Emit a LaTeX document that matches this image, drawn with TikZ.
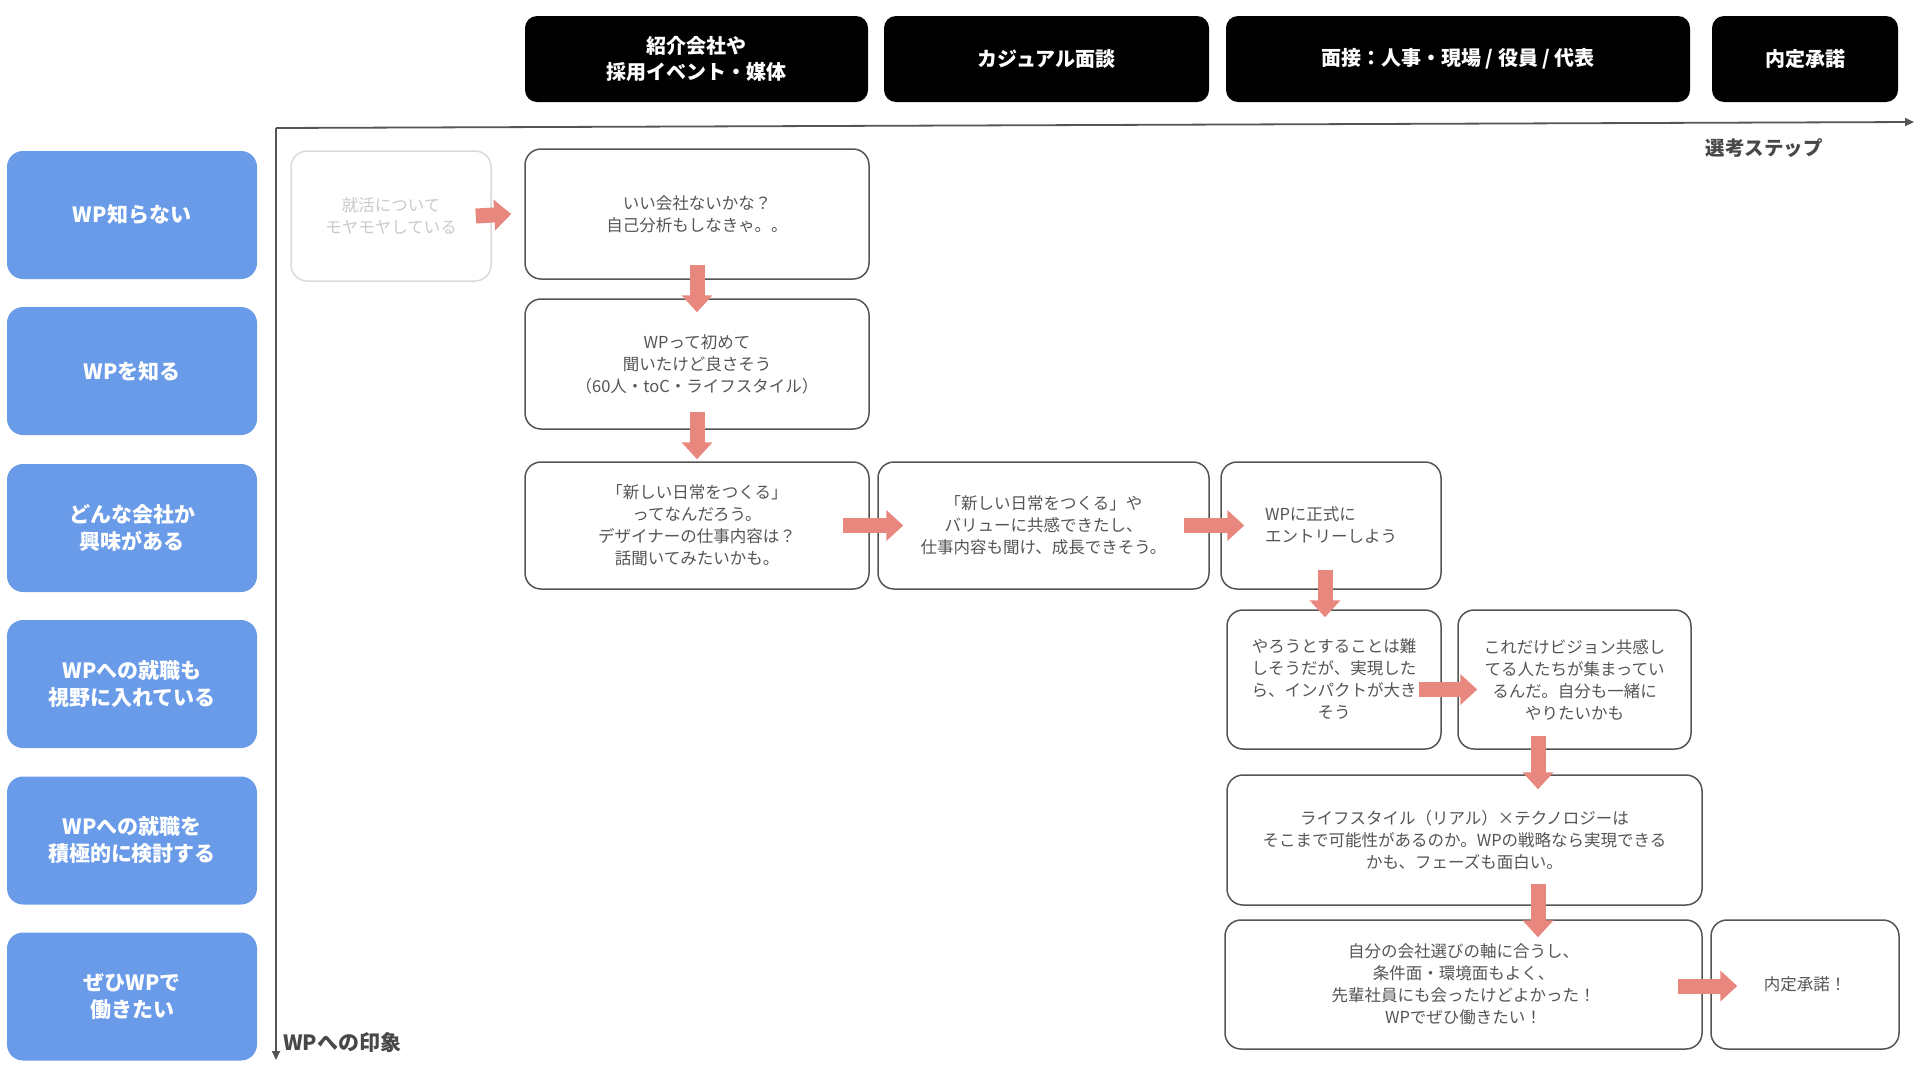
\documentclass[tikz,border=0pt]{standalone}
\usepackage{fontspec}
\setmainfont{Noto Sans CJK JP}
\usetikzlibrary{arrows.meta}
\definecolor{blu}{HTML}{6A9BE8}
\definecolor{arr}{HTML}{E8877E}
\definecolor{cardline}{HTML}{555555}
\definecolor{cardtext}{HTML}{555555}
\definecolor{ghostline}{HTML}{DADADA}
\definecolor{ghosttext}{HTML}{CACACA}
\definecolor{axcol}{HTML}{555555}
\begin{document}
\begin{tikzpicture}[x=1pt,y=-1pt,
  hdr/.style={fill=black, rounded corners=12pt, text=white, inner sep=0pt,
    font=\bfseries\fontsize{20}{26}\selectfont, align=center, minimum height=86pt},
  lvl/.style={fill=blu, rounded corners=16pt, minimum width=250pt, minimum height=128pt,
    text=white, inner sep=0pt, font=\bfseries\fontsize{21}{27}\selectfont, align=center},
  card/.style={draw=cardline, line width=1.5pt, rounded corners=16pt, fill=white, inner sep=0pt,
    text=cardtext, font=\fontsize{16.5}{22}\selectfont, align=center},
  ghost/.style={card, draw=ghostline, text=ghosttext},
  bigarr/.style={draw=arr, line width=15pt, -{Triangle[width=30pt,length=17pt]}},
  axis/.style={draw=axcol, line width=1.8pt, -{Triangle[width=8pt,length=9pt]}},
  axlab/.style={text=axcol!85!black, inner sep=0pt, font=\bfseries\fontsize{19.5}{24}\selectfont}
]
\useasboundingbox (0,0) rectangle (1920,1080);

% headers
\node[hdr, minimum width=343pt] (h1) at (696.5,59) {紹介会社や\\採用イベント・媒体};
\node[hdr, minimum width=325pt] (h2) at (1046.5,59) {カジュアル面談};
\node[hdr, minimum width=464pt] (h3) at (1458,59) {面接：人事・現場 / 役員 / 代表};
\node[hdr, minimum width=186pt] (h4) at (1805,59) {内定承諾};

% axes
\coordinate (org) at (276,128);
\coordinate (xtip) at (1914,122);
\coordinate (ytip) at (276,1060);
\draw[axis] (org) -- (xtip);
\draw[axis] (org) -- (ytip);
\node[axlab] (xl) at (1764,148) {選考ステップ};
\node[axlab, anchor=west, font=\bfseries\fontsize{21}{24}\selectfont] (yl) at (283,1043) {WPへの印象};

% levels
\node[lvl] (l1) at (132,215) {WP知らない};
\node[lvl] (l2) at (132,371) {WPを知る};
\node[lvl] (l3) at (132,528) {どんな会社か\\興味がある};
\node[lvl] (l4) at (132,684) {WPへの就職も\\視野に入れている};
\node[lvl] (l5) at (132,840.5) {WPへの就職を\\積極的に検討する};
\node[lvl] (l6) at (132,996.5) {ぜひWPで\\働きたい};

% cards
\node[ghost, minimum width=200pt, minimum height=130pt] (g) at (391,216) {就活について\\モヤモヤしている};
\node[card, minimum width=344pt, minimum height=130pt] (a) at (697,214) {いい会社ないかな？\\自己分析もしなきゃ。。};
\node[card, minimum width=344pt, minimum height=130pt] (b) at (697,364) {WPって初めて\\聞いたけど良さそう\\（60人・toC・ライフスタイル）};
\node[card, minimum width=344pt, minimum height=127pt] (c) at (697,525.5) {「新しい日常をつくる」\\ってなんだろう。\\デザイナーの仕事内容は？\\話聞いてみたいかも。};
\node[card, minimum width=331pt, minimum height=127pt] (d) at (1043.5,525.5) {「新しい日常をつくる」や\\バリューに共感できたし、\\仕事内容も聞け、成長できそう。};
\node[card, minimum width=220pt, minimum height=127pt, align=left] (e) at (1331,525.5) {WPに正式に\\エントリーしよう};
\node[card, minimum width=214pt, minimum height=139pt] (f) at (1334,679.5) {やろうとすることは難\\しそうだが、実現した\\ら、インパクトが大き\\そう};
\node[card, minimum width=233pt, minimum height=139pt] (gg) at (1574.5,679.5) {これだけビジョン共感し\\てる人たちが集まってい\\るんだ。自分も一緒に\\やりたいかも};
\node[card, minimum width=475pt, minimum height=130pt] (h) at (1464.5,840) {ライフスタイル（リアル）×テクノロジーは\\そこまで可能性があるのか。WPの戦略なら実現できる\\かも、フェーズも面白い。};
\node[card, minimum width=477pt, minimum height=129pt] (i) at (1463.5,984.5) {自分の会社選びの軸に合うし、\\条件面・環境面もよく、\\先輩社員にも会ったけどよかった！\\WPでぜひ働きたい！};
\node[card, minimum width=188pt, minimum height=129pt] (j) at (1805,984.5) {内定承諾！};

% arrows
\draw[bigarr] ([xshift=-16pt]g.east) -- ([xshift=-13pt]a.west);
\draw[bigarr] ([yshift=15pt]a.south) -- ([yshift=-14pt]b.north);
\draw[bigarr] ([yshift=18pt]b.south) -- ([yshift=2pt]c.north);
\draw[bigarr] ([xshift=-27pt]c.east) -- ([xshift=26pt]d.west);
\draw[bigarr] ([xshift=-26pt]d.east) -- ([xshift=24pt]e.west);
\draw[bigarr] ([xshift=-6pt,yshift=20pt]e.south) -- ([xshift=-9pt,yshift=-8pt]f.north);
\draw[bigarr] ([xshift=-23pt,yshift=-10pt]f.east) -- ([xshift=20pt,yshift=-10pt]gg.west);
\draw[bigarr] ([xshift=-36.5pt,yshift=14pt]gg.south) -- ([xshift=73.5pt,yshift=-15pt]h.north);
\draw[bigarr] ([xshift=73.5pt,yshift=22pt]h.south) -- ([xshift=74.5pt,yshift=-18pt]i.north);
\draw[bigarr] ([xshift=-25pt,yshift=-1.5pt]i.east) -- ([xshift=27pt,yshift=-1.5pt]j.west);
\end{tikzpicture}
\end{document}
